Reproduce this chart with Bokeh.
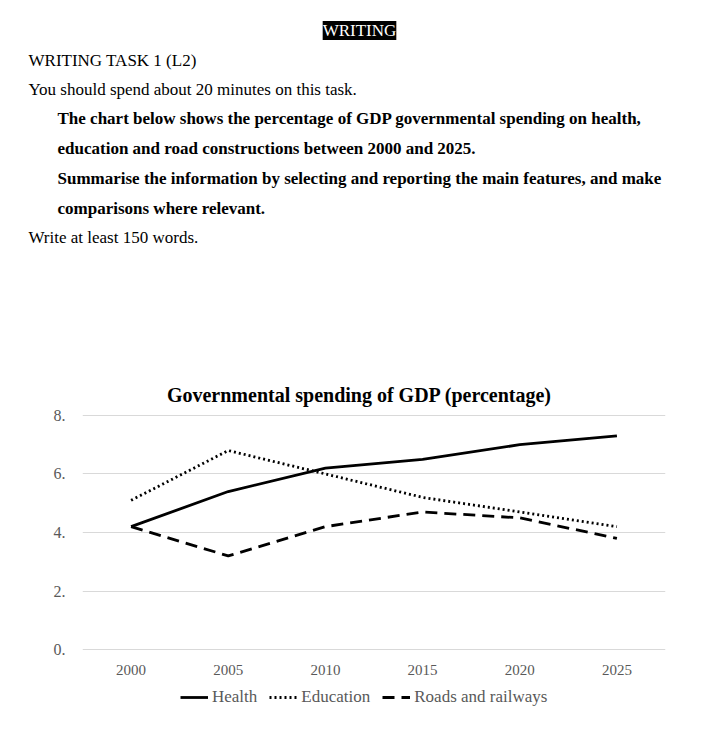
from bokeh.plotting import figure
from bokeh.models import Label, Legend, LegendItem, FixedTicker, FactorRange, Range1d
from bokeh.embed import file_html
from bokeh.resources import INLINE

# ---- data ----
years = ["2000", "2005", "2010", "2015", "2020", "2025"]
health = [4.2, 5.4, 6.2, 6.5, 7.0, 7.3]
education = [5.1, 6.8, 6.0, 5.2, 4.7, 4.2]
roads = [4.2, 3.2, 4.2, 4.7, 4.5, 3.8]
y_ticks = [0, 2, 4, 6, 8]
y_tick_labels = ["0.", "2.", "4.", "6.", "8."]
chart_title = "Governmental spending of GDP (percentage)"
series_names = ["Health", "Education", "Roads and railways"]

heading = "WRITING"
plain_lines = ["WRITING TASK 1 (L2)", "You should spend about 20 minutes on this task."]
bold_lines = [
    "The chart below shows the percentage of GDP governmental spending on health,",
    "education and road constructions between 2000 and 2025.",
    "Summarise the information by selecting and reporting the main features, and make",
    "comparisons where relevant.",
]
last_line = "Write at least 150 words."

SERIF = "Liberation Serif"
W = 720
TOP_H = 408
CHART_H = 280
LEG_H = 737 - TOP_H - CHART_H

STYLES = {
    "health": dict(line_color="black", line_width=2.8),
    "education": dict(line_color="black", line_width=2.8, line_dash="2 3"),
    "roads": dict(line_color="black", line_width=2.8, line_dash="12 7"),
}
SERIES = {"health": health, "education": education, "roads": roads}

# ---- text panel (page coordinates) ----
t = figure(width=W, height=TOP_H, x_range=Range1d(0, W), y_range=Range1d(TOP_H, 0),
           output_backend="svg", toolbar_location=None, min_border=0,
           x_axis_location=None, y_axis_location=None)
t.grid.visible = False
t.outline_line_color = None


def put(text, px, py, size="17px", bold=False, align="left", color="black", **kw):
    t.add_layout(Label(x=px, y=py, text=text, text_font=SERIF, text_font_size=size,
                       text_font_style="bold" if bold else "normal", text_color=color,
                       text_align=align, text_baseline="middle", **kw))


put(heading, 359, 30, align="center", color="white", background_fill_color="black")
put(plain_lines[0], 28, 60)
put(plain_lines[1], 28, 89)
for i, line in enumerate(bold_lines):
    put(line, 57, 118 + 30 * i, bold=True)
put(last_line, 28, 237)
put(chart_title, 359, 394, size="20px", bold=True, align="center")

# ---- chart ----
p = figure(width=W, height=CHART_H, x_range=FactorRange(factors=years), y_range=Range1d(-0.1, 8.1),
           output_backend="svg", toolbar_location=None,
           min_border_left=82, min_border_right=55, min_border_top=4, min_border_bottom=36)
p.outline_line_color = None
p.xgrid.grid_line_color = None
p.ygrid.grid_line_color = "#d9d9d9"
p.ygrid.grid_line_width = 1
p.yaxis.ticker = FixedTicker(ticks=y_ticks)
p.yaxis.major_label_overrides = {tk: lb for tk, lb in zip(y_ticks, y_tick_labels)}
for ax in (p.xaxis, p.yaxis):
    ax.axis_line_color = None
    ax.major_tick_line_color = None
    ax.minor_tick_line_color = None
    ax.major_label_text_font = SERIF
    ax.major_label_text_font_size = "15px"
    ax.major_label_text_color = "#595959"
p.yaxis.major_label_text_font_size = "16px"
p.xaxis.major_label_standoff = 6
p.yaxis.major_label_standoff = 11

for k in ("health", "education", "roads"):
    p.line(years, SERIES[k], **STYLES[k])

# ---- legend strip (hidden proxy renderers carry the legend glyph styles) ----
lg = figure(width=W, height=LEG_H, x_range=FactorRange(factors=years), y_range=Range1d(0, LEG_H),
            output_backend="svg", toolbar_location=None, min_border=0,
            x_axis_location=None, y_axis_location=None)
lg.grid.visible = False
lg.outline_line_color = None
proxies = [lg.line(years, SERIES[k], visible=False, **STYLES[k]) for k in ("health", "education", "roads")]
legend = Legend(items=[LegendItem(label=n, renderers=[r]) for n, r in zip(series_names, proxies)],
                orientation="horizontal", location=(180, LEG_H - 19),
                label_text_font=SERIF, label_text_font_size="17px", label_text_color="#595959",
                glyph_width=28, glyph_height=18, label_height=18, label_standoff=4, spacing=12,
                padding=0, margin=0, border_line_color=None, background_fill_alpha=0,
                inactive_fill_alpha=0)
lg.add_layout(legend, "center")

open("out.html", "w").write(file_html((t, p, lg), INLINE))
